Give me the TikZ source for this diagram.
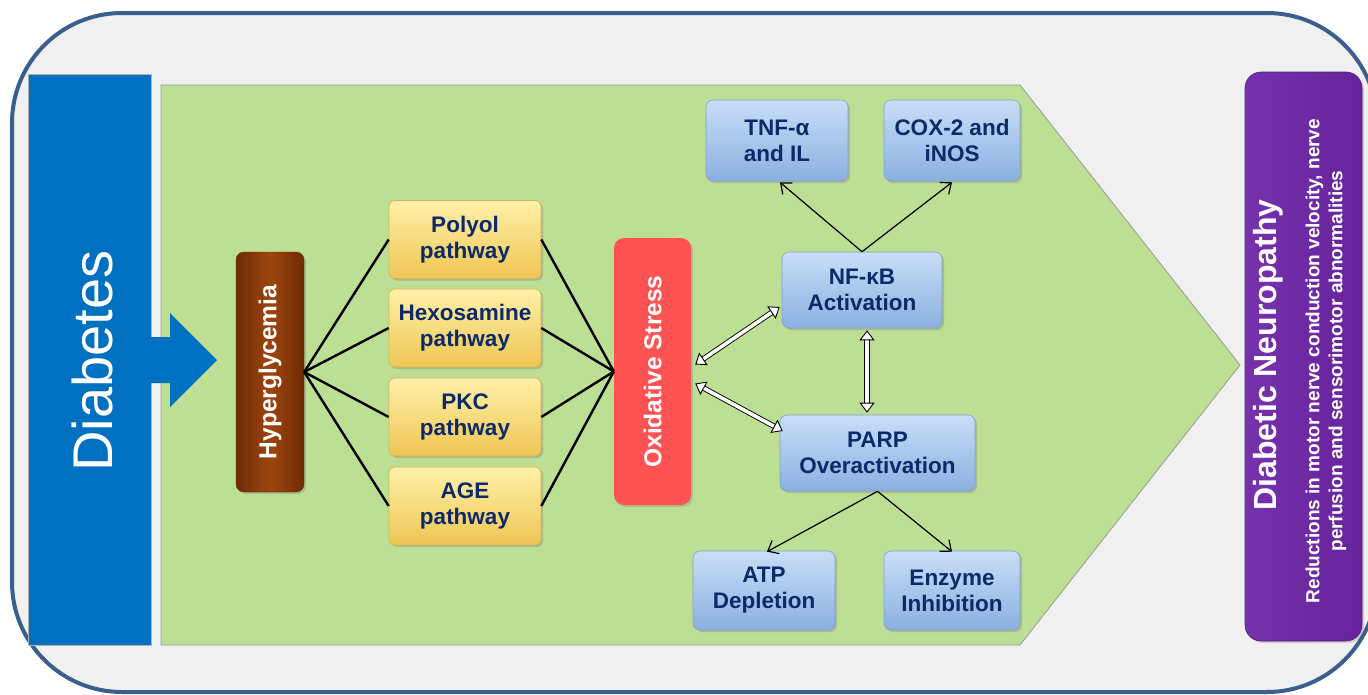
\documentclass[tikz,border=0pt]{standalone}
\usepackage{fontspec}
\setmainfont{Liberation Sans}
\usetikzlibrary{arrows.meta,shadows,calc}
\definecolor{bgc}{HTML}{F0F0F0}
\definecolor{frame}{HTML}{3A5F8C}
\definecolor{diabc}{HTML}{0070C0}
\definecolor{greenc}{HTML}{BCDF93}
\definecolor{navy}{HTML}{0C2A6A}
\definecolor{yelT}{HTML}{FFF0A8}
\definecolor{yelB}{HTML}{EFC654}
\definecolor{yelD}{HTML}{D9B24A}
\definecolor{bluT}{HTML}{C8DEF7}
\definecolor{bluB}{HTML}{8AB0E0}
\definecolor{bluD}{HTML}{7FA3CF}
\definecolor{brnL}{HTML}{6E2C06}
\definecolor{brnM}{HTML}{9E440D}
\definecolor{redc}{HTML}{FF5252}
\definecolor{purL}{HTML}{7632AC}
\definecolor{purR}{HTML}{67239C}
\newcommand\fsz[2]{\fontsize{#1}{#2}\selectfont}
\begin{document}
\begin{tikzpicture}[x=1pt,y=-1pt,
  basebox/.style={inner sep=0pt, align=center, text=navy, font=\fsz{22.5}{26}\bfseries,
    drop shadow={opacity=0.35, shadow xshift=2pt, shadow yshift=-2pt}},
  yelbox/.style={basebox, rounded corners=6pt, top color=yelT, bottom color=yelB, draw=yelD, line width=0.6pt,
    minimum width=152pt, minimum height=78pt},
  blubox/.style={basebox, rounded corners=7pt, top color=bluT, bottom color=bluB, draw=bluD, line width=0.6pt},
  vtext/.style={rotate=90, text=white, inner sep=0pt, align=center},
  link/.style={draw=black, line width=2.4pt},
  thinarr/.style={draw=black, line width=1.2pt, -{Straight Barb[length=9pt,width=15pt,line width=1.2pt]}},
  dbl/.style={draw=black, line width=0.9pt, double=white, double distance=3.6pt,
    {Triangle[open,fill=white,length=10pt,width=15pt,line width=0.9pt]}-{Triangle[open,fill=white,length=10pt,width=15pt,line width=0.9pt]}}
]
\useasboundingbox (0,0) rectangle (1368,694);
% outer frame
\draw[frame, line width=4pt, fill=bgc, rounded corners=110pt] (12,13) rectangle (1377,692);
% green chevron
\draw[fill=greenc, draw=gray!80, line width=0.8pt] (161,85) -- (1020,85) -- (1240,365) -- (1020,645) -- (161,645) -- cycle;
% diabetes block
\node[fill=diabc, draw=gray!60, line width=0.6pt, minimum width=123pt, minimum height=571pt, inner sep=0pt] (diab) at (89.5,359.5) {};
\node[vtext, font=\fsz{56}{60}] (diabt) at (92,361) {Diabetes};
\fill[diabc] (148,337) -- (170,337) -- (170,313) -- (217,360) -- (170,407) -- (170,383) -- (148,383) -- cycle;
% hyperglycemia
\node[rounded corners=8pt, left color=brnL, right color=brnL, middle color=brnM, draw=brnL, minimum width=68pt, minimum height=240pt, inner sep=0pt,
  drop shadow={opacity=0.35, shadow xshift=2pt, shadow yshift=-2pt}] (hyp) at (270,372) {};
\node[vtext, font=\fsz{24.5}{28}\bfseries] (hypt) at (hyp) {Hyperglycemia};
% pathways
\node[yelbox] (poly) at (465,239.5) {Polyol\\pathway};
\node[yelbox] (hexo) at (465,328) {Hexosamine\\pathway};
\node[yelbox] (pkc) at (465,417) {PKC\\pathway};
\node[yelbox] (age) at (465,506) {AGE\\pathway};
% oxidative stress
\node[rounded corners=10pt, fill=redc, minimum width=77pt, minimum height=267pt, inner sep=0pt,
  drop shadow={opacity=0.3, shadow xshift=2pt, shadow yshift=-2pt}] (ox) at (652.5,371.5) {};
\node[vtext, font=\fsz{24.5}{28}\bfseries] (oxt) at (ox) {Oxidative Stress};
% blue boxes
\node[blubox, minimum width=160pt, minimum height=76pt] (nf) at (862,290) {NF-κB\\Activation};
\node[blubox, minimum width=195pt, minimum height=76pt] (parp) at (877.5,453) {PARP\\Overactivation};
\node[blubox, minimum width=142pt, minimum height=81pt] (tnf) at (777,140.5) {TNF-α\\and IL};
\node[blubox, minimum width=136pt, minimum height=81pt] (cox) at (952,140.5) {COX-2 and\\iNOS};
\node[blubox, minimum width=142pt, minimum height=79pt] (atp) at (764,590.5) {ATP\\Depletion};
\node[blubox, minimum width=136pt, minimum height=79pt] (enz) at (952,590.5) {Enzyme\\Inhibition};
% purple block
\node[rounded corners=16pt, left color=purL, right color=purR, draw=purR!80!black, line width=0.6pt,
  minimum width=117pt, minimum height=569pt, inner sep=0pt,
  drop shadow={opacity=0.3, shadow xshift=2pt, shadow yshift=-2pt}] (dn) at (1303.5,356.5) {};
\node[vtext, font=\fsz{32}{36}\bfseries] (dnt) at (1268,355) {Diabetic Neuropathy};
\node[vtext, font=\fsz{19}{23}\bfseries] (dns) at (1326,361) {Reductions in motor nerve conduction velocity, nerve\\perfusion and sensorimotor abnormalities};
% links
\foreach \p in {poly,hexo,pkc,age}{
  \draw[link] (hyp.east) -- (\p.west);
  \draw[link] (\p.east) -- (ox.west);
}
% double arrows
\coordinate (oxa) at ($(ox.east)+(4,-7)$);
\coordinate (oxb) at ($(ox.east)+(4,12)$);
\coordinate (nfa) at ($(nf.west)+(-2,17)$);
\coordinate (parpa) at ($(parp.west)+(3,-22)$);
\draw[dbl] (oxa) -- (nfa);
\draw[dbl] (oxb) -- (parpa);
\draw[dbl] ($(nf.south)+(5,2)$) -- ($(parp.north)+(-10.5,-2)$);
% thin arrows
\draw[thinarr] (nf.north) -- ($(tnf.south)+(3,1)$);
\draw[thinarr] (nf.north) -- ($(cox.south)+(0,1)$);
\draw[thinarr] (parp.south) -- ($(atp.north)+(3,1)$);
\draw[thinarr] (parp.south) -- ($(enz.north)+(0,1)$);
\end{tikzpicture}
\end{document}
